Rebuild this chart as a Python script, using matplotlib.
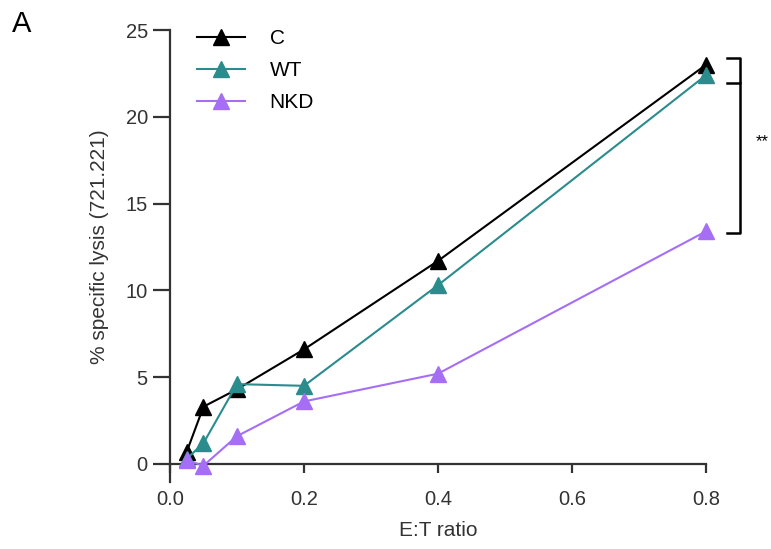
import matplotlib
matplotlib.use("Agg")
import matplotlib.pyplot as plt

plt.rcParams['font.family'] = ['Liberation Sans', 'DejaVu Sans']

# E:T ratios and % specific lysis
ratio = [0.025, 0.05, 0.1, 0.2, 0.4, 0.8]
lysis_c = [0.7, 3.3, 4.3, 6.6, 11.7, 23.0]
lysis_wt = [0.3, 1.2, 4.6, 4.5, 10.3, 22.4]
lysis_nkd = [0.2, -0.1, 1.6, 3.6, 5.2, 13.4]

names = ["C", "WT", "NKD"]
colors = ["black", "#2a8c8c", "#a66ef5"]
xticks = [0.0, 0.2, 0.4, 0.6, 0.8]
yticks = [0, 5, 10, 15, 20, 25]

fig = plt.figure(figsize=(7.71, 5.49), dpi=100)
ax = fig.add_axes([0.2205, 0.155, 0.695, 0.79])

for vals, name, col in zip([lysis_c, lysis_wt, lysis_nkd], names, colors):
    ax.plot(ratio, vals, color=col, marker="^", markersize=11, linewidth=1.5,
            label=name, clip_on=False, zorder=3)

ax.set_xlim(0, 0.8)
ax.set_ylim(0, 25)
ax.set_xticks(xticks)
ax.set_yticks(yticks)
ax.set_xticklabels(["%.1f" % t for t in xticks])
ax.spines['top'].set_visible(False)
ax.spines['right'].set_visible(False)
for s in ['left', 'bottom']:
    ax.spines[s].set_linewidth(1.6)
    ax.spines[s].set_color("#333333")
ax.tick_params(direction="out", width=1.6, color="#333333",
               labelsize=14.5, labelcolor="#333333")
ax.tick_params(axis="x", length=6.5, pad=12)
ax.tick_params(axis="y", length=12, pad=4)
# y axis line runs a bit below the x axis (Prism style)
ax.plot([0, 0], [0, -1.05], color="#333333", linewidth=1.6, clip_on=False)
ax.set_xlabel("E:T ratio", fontsize=15, color="#333333", labelpad=9)
ax.set_ylabel("% specific lysis (721.221)", fontsize=15, color="#333333", labelpad=12)

leg = ax.legend(loc="upper left", bbox_to_anchor=(0.015, 1.045), frameon=False,
                fontsize=15, handlelength=2.3, labelspacing=0.62, handletextpad=1.2)

# significance brackets
bx0, bx1 = 0.831, 0.851
ax.plot([bx0, bx1, bx1, bx0], [23.4, 23.4, 21.95, 21.95], color="black",
        linewidth=1.8, clip_on=False)
ax.plot([bx1, bx1, bx0], [21.95, 13.3, 13.3], color="black",
        linewidth=1.8, clip_on=False)
ax.text(0.874, 18.6, "**", fontsize=12, ha="left", va="center", clip_on=False)

fig.text(0.015, 0.957, "A", fontsize=21, ha="left", va="center")

fig.savefig("out.png", dpi=100)
